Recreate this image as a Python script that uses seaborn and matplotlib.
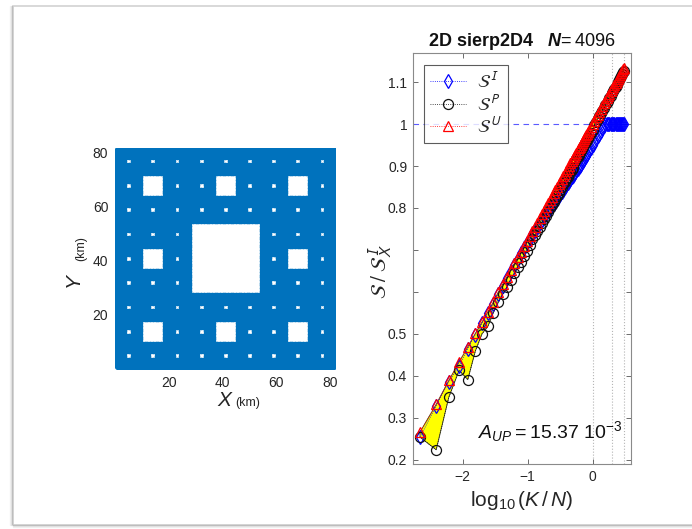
import numpy as np
import pandas as pd
import matplotlib
matplotlib.use("Agg")
import matplotlib.pyplot as plt
from matplotlib.lines import Line2D
from matplotlib.patches import Rectangle
from matplotlib.font_manager import FontProperties
import seaborn as sns

# ---------------- data ----------------
N_SITES = 4096          # number of occupied cells of the carpet
CARPET_LEVEL = 4        # 3**4 = 81 cells per side

# number of clusters K used for each estimate
K_values = [9, 16, 25, 36, 49, 64, 81, 100, 121, 144, 169, 196, 225, 256, 289,
            324, 361, 400, 441, 484, 529, 576, 625, 676, 729, 784, 841, 900,
            961, 1024, 1089, 1156, 1225, 1296, 1369, 1444, 1521, 1600, 1681,
            1764, 1849, 1936, 2025, 2116, 2209, 2304, 2401, 2500, 2601, 2704,
            2809, 2916, 3025, 3136, 3249, 3364, 3481, 3600,
            3844, 4096, 4356, 4624, 4900, 5184, 5476, 5776, 6084, 6400, 6724,
            7056, 7396, 7744, 8100, 8464, 8836, 9216, 9604, 10000, 10404,
            10816, 11236, 11664, 12100, 12321]

S_I = [0.254, 0.329, 0.386, 0.424, 0.465, 0.498, 0.525, 0.550, 0.572, 0.596,
       0.615, 0.633, 0.650, 0.665, 0.679, 0.692, 0.705, 0.717, 0.727, 0.737,
       0.746, 0.755, 0.764, 0.772, 0.779, 0.785, 0.792, 0.798, 0.804, 0.810,
       0.816, 0.822, 0.828, 0.834, 0.839, 0.844, 0.849, 0.854, 0.859, 0.864,
       0.869, 0.873, 0.877, 0.882, 0.886, 0.890, 0.894, 0.898, 0.901, 0.905,
       0.909, 0.913, 0.917, 0.921, 0.925, 0.929, 0.933, 0.937,
       0.944, 0.951, 0.958, 0.965, 0.971, 0.977, 0.984, 0.990, 0.996, 0.999,
       1.000, 1.000, 1.000, 1.000, 1.000, 1.000, 1.000, 1.000, 1.000, 1.000,
       1.000, 1.000, 1.000, 1.000, 1.000, 1.000]

S_P = [0.254, 0.224, 0.349, 0.413, 0.391, 0.459, 0.500, 0.518, 0.550, 0.575,
       0.594, 0.612, 0.629, 0.644, 0.659, 0.672, 0.685, 0.698, 0.713, 0.725,
       0.735, 0.745, 0.755, 0.765, 0.774, 0.782, 0.791, 0.799, 0.807, 0.815,
       0.822, 0.829, 0.836, 0.843, 0.849, 0.856, 0.862, 0.868, 0.874, 0.880,
       0.886, 0.891, 0.896, 0.907, 0.912, 0.917, 0.922, 0.927, 0.931, 0.936,
       0.941, 0.945, 0.950, 0.954, 0.958, 0.962, 0.966, 0.971,
       0.978, 0.986, 0.998, 1.006, 1.012, 1.019, 1.026, 1.032, 1.039, 1.045,
       1.051, 1.056, 1.062, 1.068, 1.073, 1.078, 1.084, 1.089, 1.094, 1.099,
       1.105, 1.110, 1.114, 1.119, 1.124, 1.126]

S_U = [0.266, 0.332, 0.389, 0.433, 0.469, 0.501, 0.528, 0.553, 0.575, 0.599,
       0.618, 0.636, 0.653, 0.668, 0.683, 0.696, 0.709, 0.722, 0.733, 0.745,
       0.755, 0.765, 0.775, 0.785, 0.794, 0.802, 0.811, 0.819, 0.827, 0.835,
       0.842, 0.849, 0.856, 0.863, 0.869, 0.876, 0.882, 0.888, 0.894, 0.900,
       0.906, 0.911, 0.916, 0.922, 0.927, 0.932, 0.937, 0.942, 0.946, 0.951,
       0.956, 0.960, 0.965, 0.969, 0.973, 0.977, 0.981, 0.986,
       0.993, 1.001, 1.008, 1.016, 1.022, 1.029, 1.036, 1.042, 1.049, 1.055,
       1.061, 1.066, 1.072, 1.078, 1.083, 1.088, 1.093, 1.098, 1.103, 1.108,
       1.113, 1.118, 1.122, 1.127, 1.131, 1.133]

y_ticks = [0.2, 0.3, 0.4, 0.5, 0.6, 0.7, 0.8, 0.9, 1.0, 1.1]
y_ticklabels = ["0.2", "0.3", "0.4", "0.5", "", "", "0.8", "0.9", "1", "1.1"]
ref_ratios = [1, 2, 3]          # K/N marked by vertical guides
A_UP_text = "15.37"

# ---------------- style ----------------
sns.set_style("white")
plt.rcParams["font.family"] = ["Liberation Sans", "DejaVu Sans"]
plt.rcParams["mathtext.fontset"] = "custom"
plt.rcParams["mathtext.rm"] = "Liberation Sans"
plt.rcParams["mathtext.it"] = "Liberation Sans:italic"
plt.rcParams["mathtext.bf"] = "Liberation Sans:bold"
plt.rcParams["mathtext.bfit"] = "Liberation Sans:italic:bold"

TXT = "#262626"
W, H = 692, 529
fig = plt.figure(figsize=(W / 100, H / 100), dpi=100)
fig.patch.set_facecolor("white")


def frac_box(left, top, right, bottom):
    return [left / W, 1 - bottom / H, (right - left) / W, (bottom - top) / H]


# ---------------- left panel: the carpet ----------------
side = 3 ** CARPET_LEVEL
cells = []
for i in range(side):
    for j in range(side):
        a, b, keep = i, j, True
        while a > 0 or b > 0:
            if a % 3 == 1 and b % 3 == 1:
                keep = False
                break
            a //= 3
            b //= 3
        if keep:
            cells.append((i + 1, j + 1))
carpet = pd.DataFrame(cells, columns=["X", "Y"])

axL = fig.add_axes(frac_box(115.3, 147.6, 335.3, 369.0))
sns.scatterplot(data=carpet, x="X", y="Y", ax=axL, s=30, marker="o",
                color="#0072BD", linewidth=0, legend=False)
axL.set_xlim(0, 82)
axL.set_ylim(0, 82)
axL.set_xticks([20, 40, 60, 80])
axL.set_yticks([20, 40, 60, 80])
axL.tick_params(length=0, pad=5, labelsize=10, labelcolor=TXT)
for sp in axL.spines.values():
    sp.set_visible(False)
axL.set_xlabel("")
axL.set_ylabel("")
axL.text(0.462, -0.167, r"$X$", transform=axL.transAxes, fontsize=15,
         color=TXT, ha="left", va="baseline")
axL.text(0.545, -0.167, "(km)", transform=axL.transAxes, fontsize=9,
         color=TXT, ha="left", va="baseline")
axL.text(-0.157, 0.357, r"$Y$", transform=axL.transAxes, fontsize=15,
         color=TXT, ha="left", va="baseline", rotation=90,
         rotation_mode="anchor")
axL.text(-0.143, 0.49, "(km)", transform=axL.transAxes, fontsize=9,
         color=TXT, ha="left", va="baseline", rotation=90,
         rotation_mode="anchor")

# ---------------- right panel: S/S_X^I versus log10(K/N) ----------------
logK = np.log10(np.array(K_values, dtype=float) / N_SITES)
curves = pd.DataFrame({"logK": logK, "S_I": S_I, "S_P": S_P, "S_U": S_U})

axR = fig.add_axes(frac_box(412.7, 52.7, 631.0, 464.0))

# area between the U and P estimates
poly_x = np.r_[curves["logK"], curves["logK"][::-1]]
poly_y = np.r_[curves["S_U"], curves["S_P"][::-1]]
axR.fill(poly_x, poly_y, facecolor="#ffff00", edgecolor="#3a3a20",
         linewidth=0.6, zorder=1)

for r in ref_ratios:
    axR.axvline(np.log10(r), color="#b5b5b5", linestyle=":", linewidth=0.8,
                zorder=0.5)
axR.axhline(1.0, color="#5a5aff", linestyle=(0, (5, 4)), linewidth=0.8,
            zorder=0.6)

series = [("S_I", "#0000ff", "d", 7.0, 3),
          ("S_P", "#111111", "o", 7.2, 4),
          ("S_U", "#ff0000", "^", 7.2, 5)]
for col, c, mk, ms, z in series:
    sns.lineplot(data=curves, x="logK", y=col, ax=axR, estimator=None,
                 sort=False, color=c, linestyle=":", linewidth=0.6,
                 marker=mk, markersize=ms, markerfacecolor="none",
                 markeredgecolor=c, markeredgewidth=0.9, zorder=z,
                 legend=False)

axR.set_xlim(-2.77, 0.59)
axR.set_ylim(0.19, 1.17)
axR.set_xticks([-2, -1, 0])
axR.set_yticks(y_ticks)
axR.set_yticklabels(y_ticklabels)
axR.tick_params(direction="in", length=3.5, width=0.6, color="#555555",
                labelsize=10, labelcolor=TXT, top=True, right=True,
                left=True, bottom=True, pad=4)
for sp in axR.spines.values():
    sp.set_color("#8a8a8a")
    sp.set_linewidth(0.8)

axR.set_title(r"$\mathbf{2D\ sierp2D4}\ \ \ \mathbfit{N}\!= 4096$",
              fontsize=13, color="#111111", pad=5)
axR.set_xlabel(r"$\log_{10}(K\,/\,N)$", fontsize=15, color=TXT)
axR.xaxis.set_label_coords(0.5, -0.06)
axR.set_ylabel(r"$\mathcal{S}\;/\;\mathcal{S}^{\,I}_{X}$",
               fontsize=15, color=TXT, math_fontfamily="stixsans")
axR.yaxis.set_label_coords(-0.08, 0.467)

axR.text(-1.765, 0.252, r"$A_{UP} = " + A_UP_text + r"\ 10^{-3}$",
         fontsize=14, color="#111111", ha="left", va="baseline", zorder=6)

handles = [Line2D([], [], color=c, linestyle=":", linewidth=0.6, marker=mk,
                  markersize=ms, markerfacecolor="none", markeredgecolor=c,
                  markeredgewidth=0.9)
           for _, c, mk, ms, _ in series]
labels = [r"$\mathcal{S}^{\,I}$", r"$\mathcal{S}^{\,P}$", r"$\mathcal{S}^{\,U}$"]
leg = axR.legend(handles, labels, loc="upper left",
                 bbox_to_anchor=(0.052, 0.970), borderaxespad=0,
                 prop=FontProperties(size=13, math_fontfamily="stixsans"),
                 frameon=True, fancybox=False, handlelength=2.0,
                 handletextpad=0.6, labelspacing=0.15, borderpad=0.35)
leg.get_frame().set_edgecolor("#333333")
leg.get_frame().set_linewidth(0.8)
leg.set_zorder(10)

# ---------------- window frame ----------------
fig.add_artist(Rectangle((13 / W, 4 / H), (W - 10) / W, (H - 10) / H,
                         transform=fig.transFigure, facecolor="none",
                         edgecolor="#d2d2d2", linewidth=1.2))
for k, a in enumerate([0.35, 0.2, 0.1]):
    fig.add_artist(Line2D([(12 - k) / W, (12 - k) / W], [4 / H, 523 / H],
                          transform=fig.transFigure, color="#909090",
                          alpha=a, linewidth=1))
    fig.add_artist(Line2D([13 / W, 1], [(4 - k) / H, (4 - k) / H],
                          transform=fig.transFigure, color="#909090",
                          alpha=a, linewidth=1))

fig.savefig("out.png", dpi=100, facecolor="white")
